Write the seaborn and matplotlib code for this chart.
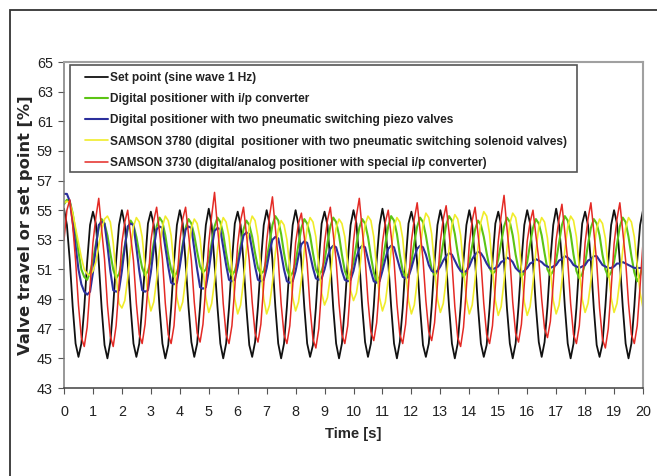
import matplotlib
matplotlib.use("Agg")
import matplotlib.pyplot as plt
import seaborn as sns
import pandas as pd
from matplotlib.patches import Rectangle

# time axis, 0.1 s steps from 0 to 20 s
time_s = [i / 10 for i in range(201)]

# values, one row per second
set_point = [
    55.1, 54.0, 51.6, 48.5, 46.0, 45.1, 46.0, 48.4, 51.5, 54.0,
    54.9, 54.1, 51.5, 48.4, 45.9, 45.0, 46.1, 48.5, 51.6, 54.0,
    55.0, 54.0, 51.5, 48.5, 46.0, 45.1, 46.0, 48.5, 51.4, 54.1,
    54.9, 54.0, 51.6, 48.4, 46.0, 45.0, 45.9, 48.4, 51.5, 54.0,
    55.0, 54.1, 51.5, 48.5, 46.1, 45.1, 46.0, 48.5, 51.6, 54.0,
    55.1, 54.0, 51.4, 48.5, 46.0, 45.0, 46.0, 48.4, 51.5, 54.1,
    54.9, 54.0, 51.5, 48.4, 45.9, 45.1, 46.1, 48.5, 51.5, 54.0,
    55.0, 54.1, 51.6, 48.5, 46.0, 45.0, 46.0, 48.5, 51.6, 54.0,
    55.0, 54.0, 51.5, 48.5, 46.0, 45.1, 45.9, 48.4, 51.5, 54.1,
    54.9, 54.0, 51.5, 48.4, 46.0, 45.0, 46.0, 48.5, 51.5, 54.0,
    55.0, 54.1, 51.6, 48.5, 46.1, 45.1, 46.0, 48.5, 51.6, 54.0,
    55.1, 54.0, 51.5, 48.5, 46.0, 45.0, 46.1, 48.4, 51.5, 54.1,
    54.9, 54.0, 51.4, 48.4, 45.9, 45.1, 46.0, 48.5, 51.5, 54.0,
    55.0, 54.1, 51.5, 48.5, 46.0, 45.0, 46.0, 48.5, 51.6, 54.0,
    55.0, 54.0, 51.6, 48.5, 46.0, 45.1, 45.9, 48.4, 51.5, 54.1,
    54.9, 54.0, 51.5, 48.4, 46.0, 45.0, 46.0, 48.5, 51.5, 54.0,
    55.0, 54.1, 51.5, 48.5, 46.1, 45.1, 46.1, 48.5, 51.6, 54.0,
    55.1, 54.0, 51.6, 48.5, 46.0, 45.0, 46.0, 48.4, 51.5, 54.1,
    54.9, 54.0, 51.5, 48.4, 45.9, 45.1, 46.0, 48.5, 51.5, 54.0,
    55.0, 54.1, 51.5, 48.5, 46.0, 45.0, 46.0, 48.5, 51.6, 54.0,
    55.0]

ip_converter = [
    55.4, 55.7, 55.6, 54.8, 53.5, 52.2, 51.0, 50.5, 50.3, 50.8,
    51.6, 52.7, 53.8, 54.4, 54.1, 53.3, 52.1, 51.0, 50.4, 50.7,
    51.5, 52.6, 53.7, 54.3, 54.0, 53.2, 52.1, 51.1, 50.6, 50.9,
    51.6, 52.8, 53.9, 54.5, 54.2, 53.3, 52.0, 51.0, 50.5, 50.8,
    51.5, 52.7, 53.8, 54.4, 54.1, 53.3, 52.2, 51.2, 50.8, 51.0,
    51.7, 52.8, 53.9, 54.5, 54.2, 53.4, 52.1, 51.0, 50.6, 50.9,
    51.6, 52.6, 53.7, 54.3, 54.0, 53.2, 52.1, 51.1, 50.7, 50.9,
    51.7, 52.8, 54.0, 54.6, 54.3, 53.4, 52.1, 51.0, 50.5, 50.8,
    51.5, 52.7, 53.8, 54.4, 54.1, 53.3, 52.1, 51.0, 50.6, 50.9,
    51.6, 52.8, 53.9, 54.5, 54.2, 53.3, 52.0, 50.9, 50.4, 50.7,
    51.5, 52.7, 53.8, 54.4, 54.1, 53.2, 51.9, 50.8, 50.2, 50.5,
    51.4, 52.7, 53.9, 54.6, 54.3, 53.4, 52.0, 50.9, 50.4, 50.7,
    51.5, 52.8, 53.9, 54.5, 54.2, 53.3, 52.1, 51.0, 50.6, 50.9,
    51.6, 52.8, 54.0, 54.6, 54.3, 53.4, 52.1, 51.0, 50.5, 50.8,
    51.5, 52.6, 53.7, 54.3, 54.0, 53.2, 52.1, 51.1, 50.7, 50.9,
    51.7, 52.8, 53.9, 54.5, 54.2, 53.3, 52.0, 51.0, 50.5, 50.8,
    51.5, 52.7, 53.8, 54.4, 54.1, 53.3, 52.1, 51.0, 50.6, 50.9,
    51.6, 52.8, 54.0, 54.6, 54.3, 53.4, 52.0, 50.9, 50.4, 50.7,
    51.4, 52.7, 53.8, 54.4, 54.1, 53.3, 52.0, 51.0, 50.5, 50.8,
    51.5, 52.7, 53.9, 54.5, 54.2, 53.2, 51.9, 50.8, 50.2, 50.6,
    51.4]

piezo = [
    56.1, 56.1, 55.6, 54.2, 52.6, 51.0, 50.0, 49.5, 49.3, 49.5,
    50.8, 52.5, 54.0, 54.2, 54.1, 52.6, 50.9, 49.6, 49.5, 49.6,
    50.9, 52.5, 53.9, 54.1, 54.0, 52.5, 50.9, 49.6, 49.5, 49.6,
    50.8, 52.4, 53.7, 53.9, 53.8, 52.5, 51.2, 50.1, 50.0, 50.1,
    51.2, 52.5, 53.7, 53.9, 53.8, 52.4, 51.0, 49.8, 49.7, 49.8,
    50.9, 52.4, 53.6, 53.8, 53.7, 52.5, 51.3, 50.3, 50.2, 50.3,
    51.2, 52.3, 53.3, 53.5, 53.4, 52.3, 51.2, 50.3, 50.2, 50.3,
    51.1, 52.2, 53.0, 53.2, 53.1, 52.1, 51.0, 50.2, 50.1, 50.2,
    50.9, 51.9, 52.7, 52.9, 52.8, 52.0, 51.1, 50.4, 50.3, 50.4,
    51.0, 51.8, 52.4, 52.6, 52.5, 51.8, 50.9, 50.3, 50.2, 50.3,
    50.9, 51.8, 52.4, 52.6, 52.5, 51.7, 50.9, 50.2, 50.1, 50.2,
    50.9, 51.7, 52.4, 52.6, 52.5, 51.8, 51.1, 50.5, 50.4, 50.5,
    51.1, 51.8, 52.4, 52.6, 52.5, 52.0, 51.3, 50.9, 50.8, 50.9,
    51.2, 51.6, 51.9, 52.1, 52.0, 51.6, 51.2, 50.9, 50.8, 50.9,
    51.2, 51.7, 52.0, 52.2, 52.1, 51.8, 51.4, 51.1, 51.0, 51.1,
    51.2, 51.5, 51.6, 51.8, 51.7, 51.5, 51.1, 50.9, 50.8, 50.9,
    51.1, 51.4, 51.5, 51.7, 51.6, 51.5, 51.3, 51.2, 51.1, 51.2,
    51.3, 51.6, 51.7, 51.9, 51.8, 51.6, 51.3, 51.2, 51.1, 51.2,
    51.3, 51.6, 51.7, 51.9, 51.9, 51.6, 51.3, 51.2, 51.1, 51.1,
    51.2, 51.4, 51.4, 51.5, 51.4, 51.3, 51.2, 51.1, 51.1, 51.1,
    51.1]

samson_3780 = [
    55.5, 55.6, 55.5, 54.8, 53.8, 52.8, 51.8, 51.0, 50.7, 50.6,
    50.9, 51.5, 52.6, 53.7, 54.4, 54.6, 54.2, 52.8, 50.6, 48.7,
    48.4, 48.9, 50.4, 52.4, 53.9, 54.5, 54.2, 53.2, 51.2, 49.2,
    48.2, 48.8, 50.3, 52.3, 53.9, 54.6, 54.3, 53.3, 51.2, 49.1,
    48.2, 48.8, 50.3, 52.2, 53.8, 54.4, 54.1, 53.1, 51.1, 49.1,
    48.1, 48.7, 50.2, 52.3, 53.8, 54.5, 54.2, 53.2, 51.1, 49.0,
    48.0, 48.6, 50.2, 52.3, 53.9, 54.6, 54.3, 53.2, 51.1, 49.0,
    48.0, 48.6, 50.1, 52.1, 53.7, 54.3, 54.0, 53.0, 51.1, 49.1,
    48.2, 48.8, 50.3, 52.3, 53.8, 54.5, 54.2, 53.2, 51.3, 49.4,
    48.6, 49.1, 50.5, 52.4, 53.8, 54.4, 54.1, 53.2, 51.4, 49.6,
    48.9, 49.4, 50.7, 52.6, 54.0, 54.6, 54.3, 53.2, 51.1, 49.1,
    48.2, 48.8, 50.3, 52.3, 53.9, 54.5, 54.2, 53.1, 51.0, 48.9,
    48.0, 48.6, 50.2, 52.3, 54.0, 54.8, 54.5, 53.4, 51.2, 49.0,
    48.1, 48.7, 50.3, 52.4, 54.0, 54.7, 54.4, 53.3, 51.1, 49.0,
    48.0, 48.6, 50.3, 52.5, 54.2, 54.9, 54.6, 53.4, 51.1, 48.9,
    47.9, 48.5, 50.2, 52.4, 54.1, 54.8, 54.5, 53.3, 51.0, 48.8,
    47.9, 48.5, 50.1, 52.2, 53.9, 54.5, 54.2, 53.1, 51.0, 48.9,
    48.0, 48.6, 50.2, 52.3, 53.9, 54.6, 54.3, 53.2, 51.1, 49.0,
    48.1, 48.7, 50.2, 52.2, 53.8, 54.4, 54.1, 53.1, 51.1, 49.1,
    48.1, 48.7, 50.3, 52.3, 53.8, 54.5, 54.2, 53.2, 51.3, 49.4,
    48.4]

samson_3730 = [
    53.0, 55.0, 55.7, 54.0, 51.6, 48.6, 46.4, 45.8, 47.1, 49.8,
    52.8, 54.5, 55.8, 53.7, 51.7, 48.6, 46.5, 45.8, 47.2, 49.9,
    52.8, 54.2, 55.0, 53.3, 51.6, 48.7, 46.6, 46.0, 47.3, 49.9,
    52.9, 54.3, 55.2, 53.5, 51.7, 48.7, 46.6, 46.0, 47.2, 50.0,
    52.9, 54.4, 55.2, 53.4, 51.6, 48.8, 46.7, 46.1, 47.3, 49.9,
    52.8, 54.6, 56.2, 53.9, 51.8, 48.7, 46.6, 46.0, 47.2, 49.8,
    52.7, 54.3, 55.2, 53.4, 51.6, 48.8, 46.7, 46.1, 47.3, 50.0,
    52.9, 54.6, 55.9, 53.8, 51.7, 48.7, 46.6, 46.0, 47.2, 49.9,
    52.8, 54.1, 54.8, 53.2, 51.4, 48.4, 46.3, 45.7, 47.0, 49.8,
    52.8, 54.3, 55.2, 53.4, 51.6, 48.7, 46.6, 46.0, 47.2, 49.9,
    52.9, 54.6, 55.8, 53.7, 51.8, 48.9, 46.8, 46.2, 47.4, 50.0,
    52.8, 54.2, 55.0, 53.3, 51.6, 48.7, 46.6, 46.0, 47.3, 49.9,
    52.9, 54.4, 55.5, 53.6, 51.7, 48.9, 46.8, 46.2, 47.4, 50.0,
    52.9, 54.4, 55.3, 53.5, 51.5, 48.5, 46.4, 45.8, 47.1, 49.8,
    52.7, 54.3, 55.2, 53.4, 51.6, 48.7, 46.6, 46.0, 47.2, 49.9,
    52.9, 54.6, 56.0, 53.8, 51.8, 48.8, 46.7, 46.1, 47.3, 50.0,
    52.9, 54.2, 55.0, 53.3, 51.7, 49.0, 47.0, 46.4, 47.5, 50.1,
    53.0, 54.4, 55.4, 53.5, 51.6, 48.7, 46.6, 46.0, 47.2, 49.9,
    52.8, 54.4, 55.5, 53.6, 51.5, 48.4, 46.3, 45.7, 47.0, 49.7,
    52.7, 54.4, 55.5, 53.6, 51.6, 48.7, 46.6, 46.0, 47.2, 49.9,
    52.8]

labels = [
    "Set point (sine wave 1 Hz)",
    "Digital positioner with i/p converter",
    "Digital positioner with two pneumatic switching piezo valves",
    "SAMSON 3780 (digital  positioner with two pneumatic switching solenoid valves)",
    "SAMSON 3730 (digital/analog positioner with special i/p converter)",
]
series = [set_point, ip_converter, piezo, samson_3780, samson_3730]
colors = ["#111111", "#5cc414", "#2b2f9c", "#f0ec2a", "#e42a25"]
widths = [1.3, 1.5, 1.5, 1.2, 1.1]

sns.set_style("white")
plt.rcParams["font.family"] = ["Liberation Sans", "DejaVu Sans"]

fig = plt.figure(figsize=(6.57, 4.76), dpi=100)
ax = fig.add_axes([64 / 657, 1 - 388 / 476, 579 / 657, 326 / 476])

for vals, lab, c, w in zip(series, labels, colors, widths):
    df = pd.DataFrame({"time": time_s, "value": vals})
    sns.lineplot(data=df, x="time", y="value", ax=ax, color=c, lw=w, label=lab)

ax.set_xlim(0, 20)
ax.set_ylim(43, 65)
ax.set_xticks(range(0, 21))
ax.set_yticks(range(43, 66, 2))
ax.tick_params(axis="both", direction="out", length=4, width=0.8, color="#555555",
               labelsize=10.4, labelcolor="#222222")
ax.tick_params(axis="x", pad=8)
ax.tick_params(axis="y", pad=4)
ax.tick_params(bottom=True, left=True)

ax.set_xlabel("Time [s]", fontsize=10.7, fontweight="bold", labelpad=6)
ax.set_ylabel("Valve travel or set point [%]", fontsize=11.7, fontweight="bold",
              family=["DejaVu Sans"], labelpad=3)

ax.spines["left"].set_color("#7a7a7a")
ax.spines["bottom"].set_color("#404040")
ax.spines["top"].set_color("#a0a0a0")
ax.spines["right"].set_color("#a0a0a0")
for s in ["top", "right"]:
    ax.spines[s].set_linewidth(1.5)
for s in ["left", "bottom"]:
    ax.spines[s].set_linewidth(1.1)

leg = ax.legend(loc="upper left", bbox_to_anchor=(85 / 657, 1 - 72 / 476),
                bbox_transform=fig.transFigure, borderaxespad=0, borderpad=0,
                prop={"size": 8.6, "weight": "bold"}, handlelength=1.9,
                handletextpad=0.17, labelspacing=0.77, frameon=False)
for t in leg.get_texts():
    t.set_color("#222222")

# legend box
fig.patches.append(Rectangle((70 / 657, 1 - 172 / 476), 507 / 657, 107 / 476,
                             transform=fig.transFigure, fill=False,
                             edgecolor="#555555", lw=1.2))

# outer frame of the figure (only top and left edges visible)
fig.patches.append(Rectangle((10 / 657, -0.2), 1.5, 1.2 - 10 / 476,
                             transform=fig.transFigure, fill=False,
                             edgecolor="#333333", lw=1.3))

fig.savefig("out.png", dpi=100)
